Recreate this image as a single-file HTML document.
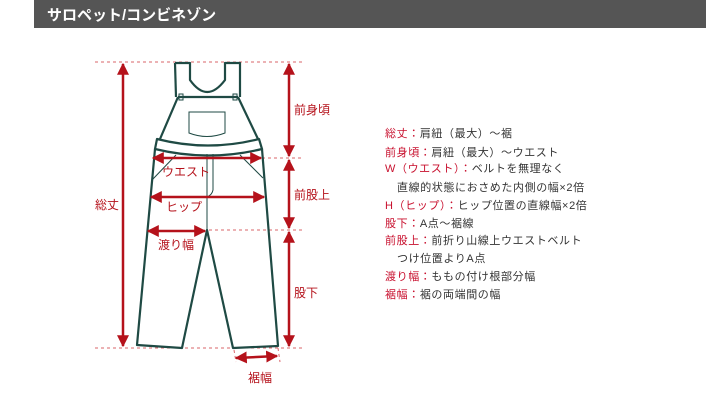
<!DOCTYPE html>
<html><head><meta charset="utf-8"><style>
body{margin:0;background:#fff;width:722px;height:420px;overflow:hidden;font-family:"Liberation Sans","Noto Sans CJK JP",sans-serif}
</style></head><body>
<svg width="722" height="420" xmlns="http://www.w3.org/2000/svg" style="position:absolute;left:0;top:0">
<defs>
<marker id="a" viewBox="0 0 10 10" refX="9" refY="5" markerWidth="4.8" markerHeight="4.8" orient="auto-start-reverse"><path d="M0,0L10,5L0,10z" fill="#b5121b"/></marker>
</defs>
<rect x="34" y="0" width="672" height="28" fill="#555"/>
<text x="47" y="20" fill="#fff" font-size="15" font-weight="bold" font-family="Liberation Sans,Noto Sans CJK JP,sans-serif">サロペット/コンビネゾン</text>
<g stroke="#d9646a" stroke-width="1" stroke-dasharray="3,3" fill="none">
<line x1="95" y1="62" x2="304" y2="62"/><line x1="95" y1="348" x2="304" y2="348"/>
<line x1="262" y1="158" x2="304" y2="158"/><line x1="209" y1="230" x2="304" y2="230"/>
<line x1="234" y1="350" x2="236" y2="362"/><line x1="278" y1="348" x2="280" y2="362"/>
</g>
<g stroke="#1f4a44" stroke-width="2.2" fill="none" stroke-linejoin="round">
<path d="M175,63 L190,63 L190,80 Q207,104 225,80 L225,63 L240,63 L240,97"/>
<path d="M175,63 L176,97"/>
<path d="M178,97 L238,97"/>
<path d="M178,97 L160,139 M238,97 L258,139"/>
<path d="M157,139 Q208,152 259,139 L262,149 Q208,162 155,149 Z"/>
<path d="M155,149 L137,345 L182,348 L207,230 L233,348 L278,346 L262,149"/>
</g>
<g stroke="#1f4a44" stroke-width="1" fill="none">
<rect x="179" y="94" width="4" height="6"/><rect x="233" y="94" width="4" height="6"/>
<path d="M189,112 L225,112 L225,133 Q207,140 189,133 Z"/>
<line x1="207" y1="154" x2="207" y2="230"/>
<path d="M213,154 L213,190 Q212,195 207,197"/>
<line x1="176" y1="155" x2="152" y2="180"/><line x1="240" y1="155" x2="263" y2="178"/>
</g>
<g stroke="#b5121b" stroke-width="2.5" marker-start="url(#a)" marker-end="url(#a)">
<line x1="123" y1="64" x2="123" y2="346"/>
<line x1="289" y1="64" x2="289" y2="156"/><line x1="289" y1="160" x2="289" y2="228"/><line x1="289" y1="232" x2="289" y2="346"/>
<line x1="153" y1="158" x2="261" y2="158"/>
<line x1="151" y1="197" x2="264" y2="197"/>
<line x1="148" y1="231" x2="205" y2="231"/>
<line x1="236" y1="358" x2="277" y2="356"/>
</g>
<g fill="#b5121b" font-size="12">
<text x="95" y="209">総丈</text>
<text x="294" y="114">前身頃</text>
<text x="294" y="199">前股上</text>
<text x="294" y="297">股下</text>
<text x="162" y="176">ウエスト</text>
<text x="166" y="211">ヒップ</text>
<text x="158" y="249">渡り幅</text>
<text x="248" y="382">裾幅</text>
</g>
<g font-size="11" fill="#333" letter-spacing="0.6">
<text x="385" y="137"><tspan fill="#c8102e">総丈：</tspan>肩紐（最大）～裾</text>
<text x="385" y="156"><tspan fill="#c8102e">前身頃：</tspan>肩紐（最大）～ウエスト</text>
<text x="385" y="172"><tspan fill="#c8102e">W（ウエスト）：</tspan>ベルトを無理なく</text>
<text x="397" y="191">直線的状態におさめた内側の幅×2倍</text>
<text x="385" y="209"><tspan fill="#c8102e">H（ヒップ）：</tspan>ヒップ位置の直線幅×2倍</text>
<text x="385" y="227"><tspan fill="#c8102e">股下：</tspan>A点～裾線</text>
<text x="385" y="244"><tspan fill="#c8102e">前股上：</tspan>前折り山線上ウエストベルト</text>
<text x="397" y="262">つけ位置よりA点</text>
<text x="385" y="280"><tspan fill="#c8102e">渡り幅：</tspan>ももの付け根部分幅</text>
<text x="385" y="298"><tspan fill="#c8102e">裾幅：</tspan>裾の両端間の幅</text>
</g>
</svg>
</body></html>
